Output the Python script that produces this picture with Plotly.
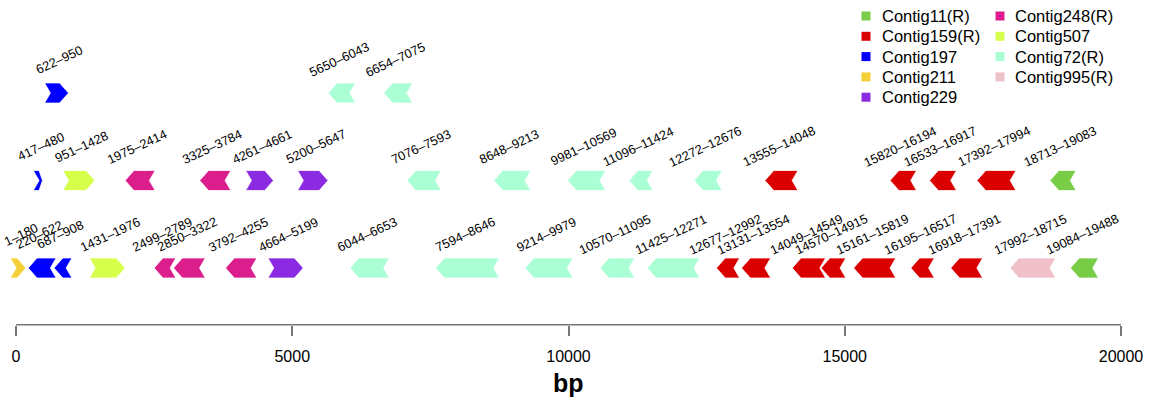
import plotly.graph_objects as go

# ---- gene map data -------------------------------------------------------
# row 3 = top track, row 2 = middle track, row 1 = bottom track
starts = [622, 5650, 6654,
          417, 951, 1975, 3325, 4261, 5200, 7076, 8648, 9981, 11096, 12272,
          13555, 15820, 16533, 17392, 18713,
          1, 220, 687, 1431, 2499, 2850, 3792, 4664, 6044, 7594, 9214, 10570,
          11425, 12677, 13131, 14049, 14570, 15161, 16195, 16918, 17992, 19084]
ends = [950, 6043, 7075,
        480, 1428, 2414, 3784, 4661, 5647, 7593, 9213, 10569, 11424, 12676,
        14048, 16194, 16917, 17994, 19083,
        180, 622, 908, 1976, 2789, 3322, 4255, 5199, 6653, 8646, 9979, 11095,
        12271, 12992, 13554, 14549, 14915, 15819, 16517, 17391, 18715, 19488]
strands = [1, -1, -1,
           1, 1, -1, -1, 1, 1, -1, -1, -1, -1, -1, -1, -1, -1, -1, -1,
           1, -1, -1, 1, -1, -1, -1, 1, -1, -1, -1, -1, -1, -1, -1, -1, -1,
           -1, -1, -1, -1, -1]
rows = [3] * 3 + [2] * 16 + [1] * 22
contigs = (["Contig197", "Contig72(R)", "Contig72(R)"]
           + ["Contig197", "Contig507", "Contig248(R)", "Contig248(R)",
              "Contig229", "Contig229"] + ["Contig72(R)"] * 5
           + ["Contig159(R)"] * 4 + ["Contig11(R)"]
           + ["Contig211", "Contig197", "Contig197", "Contig507"]
           + ["Contig248(R)"] * 3 + ["Contig229"] + ["Contig72(R)"] * 5
           + ["Contig159(R)"] * 7 + ["Contig995(R)", "Contig11(R)"])

legend_names = ["Contig11(R)", "Contig159(R)", "Contig197", "Contig211",
                "Contig229", "Contig248(R)", "Contig507", "Contig72(R)",
                "Contig995(R)"]
legend_colors = ["#79CC45", "#DB0000", "#0000FF", "#F3D035", "#8A2BE2",
                 "#DC1E8D", "#D6FF4C", "#AAFFD5", "#EFC0C9"]

axis_ticks = [0, 5000, 10000, 15000, 20000]

# ---- drawing parameters --------------------------------------------------
FONT = "Liberation Sans, Arial, Helvetica, sans-serif"
W, H = 1156, 404
HEAD = 160      # arrow head length (bp)
NOTCH = 105     # tail notch depth (bp)
HALF_H = 0.115  # half arrow height (track units)

color_of = dict(zip(legend_names, legend_colors))

fig = go.Figure()


def arrow_path(s, e, strand, y):
    h = min(HEAD, e - s)
    top, bot = y + HALF_H, y - HALF_H
    if strand > 0:
        xs = [s - NOTCH, e - h, e, e - h, s - NOTCH, s, s - NOTCH]
    else:
        xs = [e + NOTCH, s + h, s, s + h, e + NOTCH, e, e + NOTCH]
    ys = [top, top, y, bot, bot, y, top]
    return xs, ys


for s, e, st, r, c in zip(starts, ends, strands, rows, contigs):
    xs, ys = arrow_path(s, e, st, r)
    fig.add_trace(go.Scatter(
        x=xs, y=ys, mode="lines", fill="toself", name=c,
        fillcolor=color_of[c], line=dict(color="white", width=0.8),
        hoverinfo="skip", showlegend=False))
    fig.add_annotation(
        x=(s + e) / 2, y=r, xref="x", yref="y",
        xanchor="center", yanchor="middle",
        text=f"{s}\u2013{e}", showarrow=False, textangle=-25,
        yshift=34, font=dict(family=FONT, size=12.8, color="black"))

# two-column key: colour square + contig name
for i, (name, col) in enumerate(zip(legend_names, legend_colors)):
    column, row = divmod(i, 5)
    sq_x = 866 if column == 0 else 1000
    txt_x = 880 if column == 0 else 1013
    cy = 16 + row * 20.3
    fig.add_shape(type="rect", xref="paper", yref="paper",
                  x0=(sq_x - 4.5) / W, x1=(sq_x + 4.5) / W,
                  y0=1 - (cy + 4.5) / H, y1=1 - (cy - 4.5) / H,
                  fillcolor=col, line=dict(width=0))
    fig.add_annotation(x=txt_x / W, y=1 - cy / H, xref="paper", yref="paper",
                       xanchor="left", yanchor="middle", showarrow=False,
                       text=name,
                       font=dict(family=FONT, size=16.5, color="black"))

# genome coordinate axis line from 0 to the last tick
fig.add_shape(type="line", xref="x", yref="y domain",
              x0=axis_ticks[0], x1=axis_ticks[-1], y0=0, y1=0,
              line=dict(color="#777777", width=1.6))

fig.add_annotation(x=10000, y=(H - 383) / H, xref="x", yref="paper",
                   xanchor="center", yanchor="middle",
                   text="<b>bp</b>", showarrow=False,
                   font=dict(family=FONT, size=25, color="black"))

fig.update_layout(
    width=W, height=H,
    margin=dict(l=0, r=0, t=0, b=0),
    paper_bgcolor="white", plot_bgcolor="white",
    showlegend=False,
    xaxis=dict(range=[-289.6, 20633], showgrid=False, zeroline=False,
               showline=False, tickvals=axis_ticks,
               ticktext=[str(t) for t in axis_ticks],
               ticks="outside", ticklen=10, tickwidth=1.6,
               tickcolor="#777777", ticklabelstandoff=7,
               tickfont=dict(family=FONT, size=16, color="black")),
    yaxis=dict(range=[0.352, 4.063], domain=[0.1963, 1.0], visible=False,
               showgrid=False, zeroline=False),
)

fig.write_html("out.html")
